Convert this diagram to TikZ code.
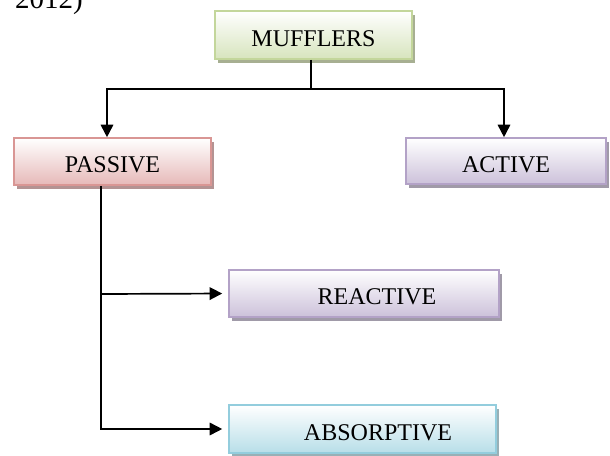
\documentclass[tikz,border=0pt]{standalone}
\usepackage{fontspec}
\setmainfont{Liberation Serif}
\usetikzlibrary{shadows,arrows.meta,calc}

\definecolor{greenfill}{HTML}{D7E4BD}
\definecolor{greenline}{HTML}{C3D69B}
\definecolor{greenshade}{HTML}{A7AF92}
\definecolor{redfill}{HTML}{E6B9B8}
\definecolor{redline}{HTML}{D99694}
\definecolor{redshade}{HTML}{B49393}
\definecolor{purplefill}{HTML}{CCC1DA}
\definecolor{purpleline}{HTML}{B3A2C7}
\definecolor{purpleshade}{HTML}{A09AA8}
\definecolor{bluefill}{HTML}{B7DEE8}
\definecolor{blueline}{HTML}{93CDDD}
\definecolor{blueshade}{HTML}{98B0B6}

\tikzset{
  catbox/.style n args={3}{
    draw=#2, line width=1.6pt,
    top color=white, bottom color=#1,
    general shadow={fill=#3, shadow xshift=3pt, shadow yshift=-4pt},
    inner sep=0pt, anchor=center,
    % tall text box so the capitals sit a little below the centre
    text height=22pt, text depth=0pt,
    font=\fontsize{24}{29}\selectfont
  },
  link/.style={line width=1.7pt, black},
  arrowlink/.style={link, -{Triangle[length=12.5pt,width=12.5pt]}},
}

\begin{document}
\begin{tikzpicture}[x=1pt,y=-1pt]
  \useasboundingbox (0,0) rectangle (610,455);

  % trailing text of the line above the chart
  \node[anchor=base west, inner sep=0pt, font=\fontsize{29}{34}\selectfont] (yr) at (15,9) {2012)};

  % category boxes
  \node[catbox={greenfill}{greenline}{greenshade}, minimum width=197pt, minimum height=48pt]
    (muf) at (313.5,35) {MUFFLERS};
  \node[catbox={redfill}{redline}{redshade}, minimum width=197pt, minimum height=47pt]
    (passive) at (112.5,161.5) {PASSIVE};
  \node[catbox={purplefill}{purpleline}{purpleshade}, minimum width=200pt, minimum height=46pt]
    (active) at (506,161) {ACTIVE};
  \node[catbox={purplefill}{purpleline}{purpleshade}, minimum width=270pt, minimum height=47pt]
    (reactive) at (364,293.5) {\hspace*{26pt}REACTIVE};
  \node[catbox={bluefill}{blueline}{blueshade}, minimum width=267pt, minimum height=48pt]
    (absorptive) at (362.5,429) {\hspace*{31pt}ABSORPTIVE};

  % tree connectors
  \coordinate (split) at (311,89);
  \coordinate (branch) at (101,294);
  \draw[link] ([xshift=-2.5pt]muf.south) -- (split);
  \draw[arrowlink] (split) -| ([xshift=-5.5pt]passive.north);
  \draw[arrowlink] (split) -| ([xshift=-2pt]active.north);
  \draw[arrowlink, shorten >=6pt] ([xshift=-11.5pt]passive.south) |- (absorptive.west);
  \draw[arrowlink, shorten >=6pt] (branch) -- (reactive.west);
\end{tikzpicture}
\end{document}
